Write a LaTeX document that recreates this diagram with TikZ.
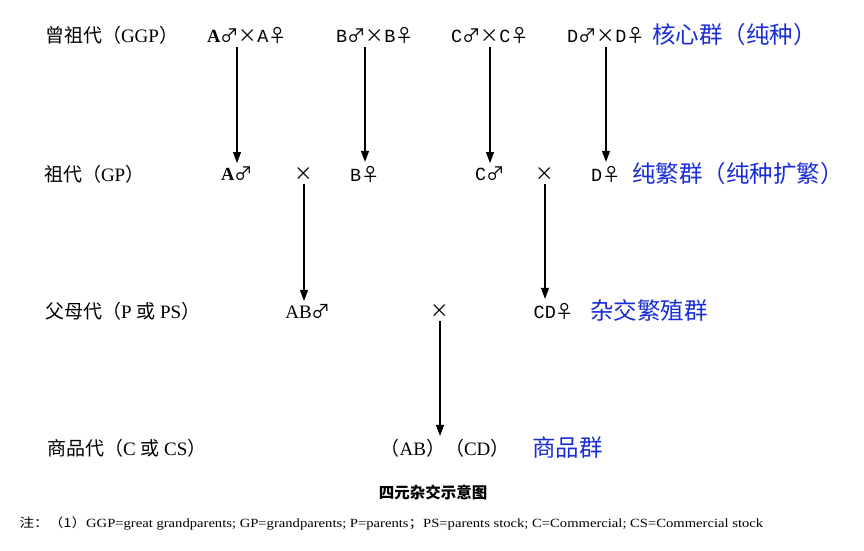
\documentclass[tikz,border=0pt]{standalone}
\usepackage{fontspec}
\usepackage{graphicx}
\setmainfont{Liberation Serif}
\newfontfamily\cjk{Noto Sans CJK SC}
\newfontfamily\mono{Liberation Mono}
\usetikzlibrary{arrows.meta}
\definecolor{groupblue}{RGB}{25,45,215}
\newcommand{\male}{{\cjk ♂}}
\newcommand{\female}{{\cjk ♀}}
\newcommand{\crossmark}{{\cjk ×}}
\tikzset{
  gen/.style={anchor=west, inner sep=1pt, outer sep=2pt, font=\fontsize{19}{22}\selectfont},
  pair/.style={inner sep=1pt, outer sep=3pt, font=\fontsize{18.5}{22}\selectfont\mono},
  group/.style={anchor=west, inner sep=1pt, text=groupblue, font=\fontsize{23.5}{27}\selectfont\cjk},
  descent/.style={-{Triangle[length=11pt,width=8pt]}, line width=1.1pt}
}
\begin{document}
\begin{tikzpicture}[x=1pt, y=-1pt]
  \useasboundingbox (0,0) rectangle (864,550);

  % -- Great grandparents --
  \node[gen] (ggp) at (42,35) {{\cjk 曾祖代（}GGP{\cjk ）}};
  \node[pair] (ggpA) at (247,35) {{\rmfamily\bfseries A}\male\crossmark A\female};
  \node[pair] (ggpB) at (375,35) {B\male\crossmark B\female};
  \node[pair] (ggpC) at (490,35) {C\male\crossmark C\female};
  \node[pair] (ggpD) at (606,35) {D\male\crossmark D\female};
  \node[group] (core) at (651,35) {核心群（纯种）};

  % -- Grandparents --
  \node[gen] (gp) at (41,174) {{\cjk 祖代（}GP{\cjk ）}};
  \node[pair] (gpA) at (237,174) {{\rmfamily\bfseries A}\male};
  \node[pair] (crossAB) at (304,174) {\crossmark};
  \node[pair] (gpB) at (365,174) {B\female};
  \node[pair] (gpC) at (490,174) {C\male};
  \node[pair] (crossCD) at (545,174) {\crossmark};
  \node[pair] (gpD) at (606,174) {D\female};
  \node[group] (pure) at (631,174) {纯繁群（纯种扩繁）};

  % -- Parents --
  \node[gen] (p) at (42,311) {{\cjk 父母代（}P {\cjk 或} PS{\cjk ）}};
  \node[gen, anchor=center] (pAB) at (308,311) {AB\male};
  \node[pair] (crossP) at (440,311) {\crossmark};
  \node[pair] (pCD) at (554,311) {CD\female};
  \node[group] (hybrid) at (589,311) {杂交繁殖群};

  % -- Commercial --
  \node[gen] (c) at (44,448) {{\cjk 商品代（}C {\cjk 或} CS{\cjk ）}};
  \node[gen, anchor=center] (cs) at (445,448) {{\cjk （}AB{\cjk ）（}CD{\cjk ）}};
  \node[group] (market) at (531,448) {商品群};

  % -- Descent arrows --
  \draw[descent] (ggpA.south -| gpA) -- (gpA.north);
  \draw[descent] (ggpB.south -| gpB) -- (gpB.north);
  \draw[descent] (ggpC.south -| gpC) -- (gpC.north);
  \draw[descent] (ggpD.south -| gpD) -- (gpD.north);
  \draw[descent] (crossAB.south) -- (crossAB |- pAB.north);
  \draw[descent] (crossCD.south) -- (crossCD |- pCD.north);
  \draw[descent] (crossP.south) -- (crossP |- cs.north);

  % Caption and note
  \node[font=\fontsize{15.5}{17}\selectfont\cjk\bfseries] (caption) at (433,492) {四元杂交示意图};
  \node[anchor=west, font=\fontsize{12.5}{14}\selectfont] (note) at (16,523)
    {\scalebox{1.17}[1]{{\cjk 注：（1）}GGP=great grandparents; GP=grandparents; P=parents{\cjk ；}PS=parents stock; C=Commercial; CS=Commercial stock}};

\end{tikzpicture}
\end{document}
